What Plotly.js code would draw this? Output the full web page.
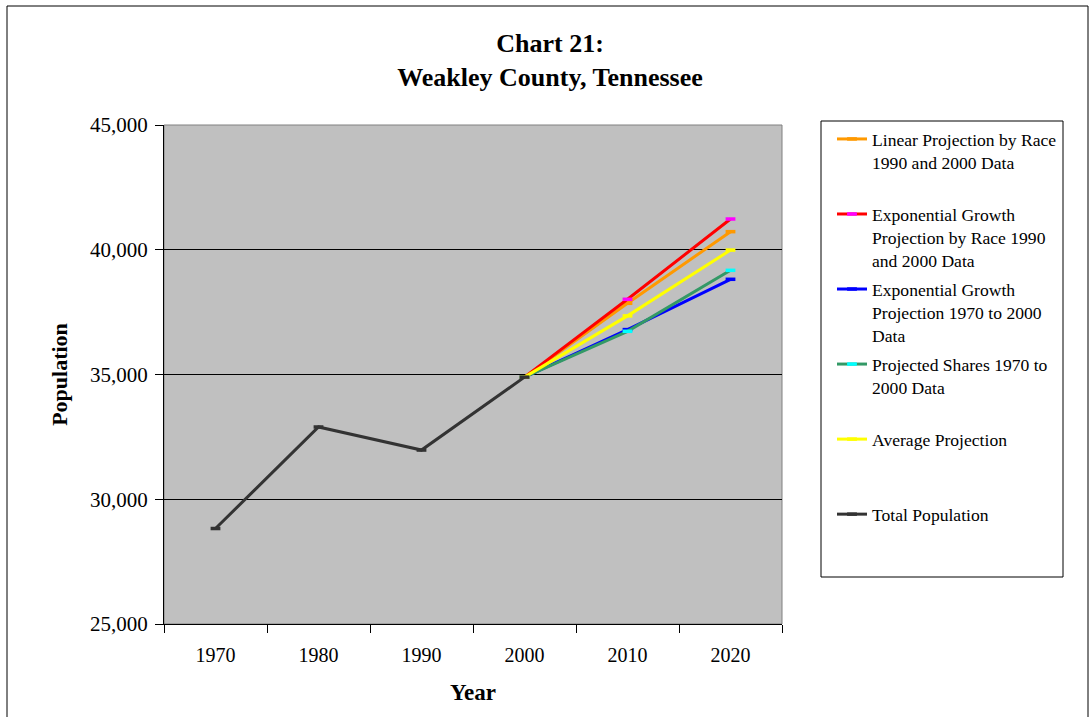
<!DOCTYPE html>
<html>
<head>
<meta charset="utf-8">
<script src="https://cdn.plot.ly/plotly-3.0.1.min.js"></script>
<style>
  html, body { margin: 0; padding: 0; background: #ffffff; }
  #chart { width: 1090px; height: 717px; }
</style>
</head>
<body>
<div id="chart"></div>
<script>
// ---- data ----
var years = ['1970', '1980', '1990', '2000', '2010', '2020'];
var totalPopulation = [28827, 32896, 31972, 34895, null, null];
var linearByRace = [null, null, null, 34895, 37854, 40725];
var expByRace = [null, null, null, 34895, 38014, 41232];
var exp1970to2000 = [null, null, null, 34895, 36800, 38816];
var sharesProjection = [null, null, null, 34895, 36731, 39176];
var averageProjection = [null, null, null, 34895, 37350, 39987];
var seriesNames = [
  'Linear Projection by Race<br>1990 and 2000 Data<br> ',
  'Exponential Growth<br>Projection by Race 1990<br>and 2000 Data',
  'Exponential Growth<br>Projection 1970 to 2000<br>Data',
  'Projected Shares 1970 to<br>2000 Data<br> ',
  'Average Projection<br> <br> ',
  'Total Population<br> <br> '
];

// ---- layout geometry ----
var W = 1090, H = 717;
var ML = 164, MR = 308, MT = 125, MB = 93;
var PW = W - ML - MR, PH = H - MT - MB;
function px(x) { return (x - ML) / PW; }
function py(y) { return (H - MB - y) / PH; }

var FONT = 'Liberation Serif, Times New Roman, serif';

function mk(name, y, lineColor, markerColor, group) {
  return {
    type: 'scatter', mode: 'lines+markers', x: years, y: y, name: name,
    legendgroup: group, connectgaps: false,
    line: { color: lineColor, width: 3 },
    marker: { symbol: 'line-ew', size: 7, color: markerColor, line: { color: markerColor, width: 3.5 } },
    hoverinfo: 'x+y'
  };
}

var traces = [
  mk(seriesNames[0], linearByRace, '#FF9900', '#FF9900', 'g1'),
  mk(seriesNames[1], expByRace, '#FF0000', '#FF00FF', 'g2'),
  mk(seriesNames[2], exp1970to2000, '#0000FF', '#0000FF', 'g3'),
  mk(seriesNames[3], sharesProjection, '#339966', '#00FFFF', 'g4'),
  mk(seriesNames[4], averageProjection, '#FFFF00', '#FFFF00', 'g5'),
  mk(seriesNames[5], totalPopulation, '#333333', '#333333', 'g6')
];

var layout = {
  width: W, height: H,
  margin: { l: ML, r: MR, t: MT, b: MB, pad: 0 },
  paper_bgcolor: '#FFFFFF',
  plot_bgcolor: '#C0C0C0',
  font: { family: FONT, color: '#000000', size: 20 },
  title: {
    text: '<b>Chart 21:<br>Weakley County, Tennessee</b>',
    font: { family: FONT, size: 26, color: '#000000' },
    xref: 'container', x: 550 / W, xanchor: 'center',
    yref: 'container', y: 1 - 52 / H, yanchor: 'top'
  },
  xaxis: {
    type: 'category', range: [-0.5, 5.5],
    tickson: 'boundaries', ticks: 'outside', ticklen: 8, tickwidth: 1, tickcolor: '#000000',
    showline: true, linecolor: '#000000', linewidth: 1,
    showgrid: false, zeroline: false,
    tickfont: { family: FONT, size: 20, color: '#000000' },
    ticklabelstandoff: 13,
    title: { text: '<b>Year</b>', font: { family: FONT, size: 23, color: '#000000' }, standoff: 18 },
    fixedrange: true
  },
  yaxis: {
    range: [25000, 45000], dtick: 5000, tick0: 25000, tickformat: ',d',
    ticks: 'outside', ticklen: 8, tickwidth: 1, tickcolor: '#000000',
    showline: true, linecolor: '#000000', linewidth: 1,
    showgrid: true, gridcolor: '#000000', gridwidth: 1, zeroline: false,
    tickfont: { family: FONT, size: 21, color: '#000000' },
    ticklabelstandoff: 3,
    title: { text: '<b>Population</b>', font: { family: FONT, size: 22, color: '#000000' }, standoff: 16 },
    fixedrange: true
  },
  showlegend: true,
  legend: {
    x: px(832), xanchor: 'left', y: py(121), yanchor: 'top',
    xref: 'paper', yref: 'paper',
    bgcolor: 'rgba(0,0,0,0)', borderwidth: 0,
    font: { family: FONT, size: 17.6, color: '#000000' },
    valign: 'top', tracegroupgap: 3.4, traceorder: 'grouped',
    maxheight: 600
  },
  shapes: [
    { type: 'rect', xref: 'paper', yref: 'paper', x0: 0, x1: 1, y0: 0, y1: 1,
      line: { color: '#808080', width: 1 }, layer: 'below' },
    { type: 'rect', xref: 'paper', yref: 'paper', x0: px(821), x1: px(1063), y0: py(577), y1: py(121),
      line: { color: '#000000', width: 1 }, fillcolor: 'rgba(0,0,0,0)' },
    { type: 'rect', xref: 'paper', yref: 'paper', x0: px(7), x1: px(1088), y0: py(730), y1: py(6),
      line: { color: '#000000', width: 1 }, fillcolor: 'rgba(0,0,0,0)' }
  ]
};

Plotly.newPlot('chart', traces, layout, { displayModeBar: false, staticPlot: true });
</script>
</body>
</html>
